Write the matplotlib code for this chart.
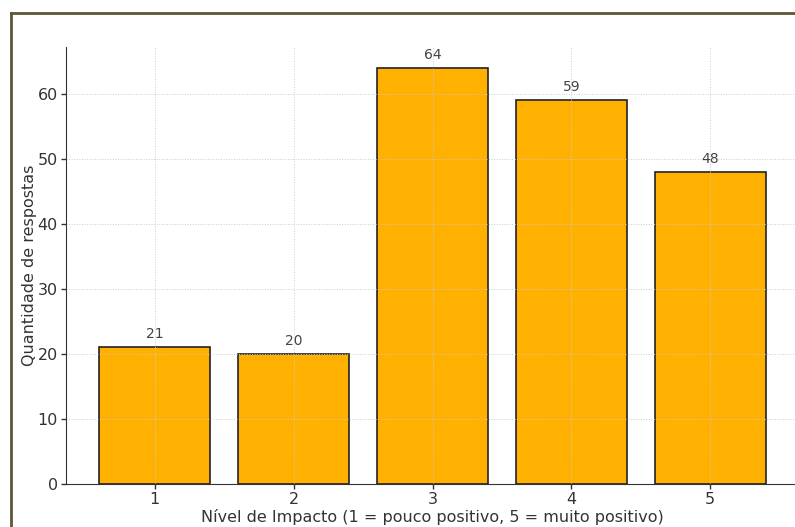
import matplotlib.pyplot as plt
from matplotlib.lines import Line2D

# Respostas por nível de impacto
niveis = [1, 2, 3, 4, 5]
respostas = [21, 20, 64, 59, 48]

W, H = 795, 527
fig = plt.figure(figsize=(W / 100, H / 100), dpi=100)

# Axes position in pixels (left, bottom, right, top) - right side runs past the frame
left, bottom, right, top = 66, 484, 799, 47
ax = fig.add_axes([left / W, 1 - bottom / H, (right - left) / W, (bottom - top) / H])

bars = ax.bar(niveis, respostas, width=0.8, color='#FFB000', edgecolor='#222222', linewidth=1.2)

for b, v in zip(bars, respostas):
    ax.annotate(str(v), (b.get_x() + b.get_width() / 2, v), xytext=(0, 4.5),
                textcoords='offset points', ha='center', va='bottom',
                fontsize=10, color='#444444')

ax.set_ylim(0, max(respostas) * 1.05)
ax.set_xticks(niveis)
ax.set_yticks(range(0, 61, 10))
ax.tick_params(labelsize=11.5, colors='#333333', width=1, pad=2.5)
ax.grid(True, linestyle=':', color='#cccccc', linewidth=0.7)
ax.spines['top'].set_visible(False)
ax.spines['right'].set_visible(False)
for s in ('left', 'bottom'):
    ax.spines[s].set_color('#333333')

ax.set_xlabel('Nível de Impacto (1 = pouco positivo, 5 = muito positivo)', fontsize=11.5,
              color='#333333', labelpad=1)
ax.set_ylabel('Quantidade de respostas', fontsize=11.5, color='#333333', labelpad=0)

# Moldura escura no canto superior esquerdo
frame_color = '#5e5636'
fig.add_artist(Line2D([11 / W, 1], [1 - 13 / H, 1 - 13 / H], color=frame_color, lw=2,
                      transform=fig.transFigure))
fig.add_artist(Line2D([11 / W, 11 / W], [0, 1 - 13 / H], color=frame_color, lw=2,
                      transform=fig.transFigure))

fig.savefig('out.png', dpi=100)
